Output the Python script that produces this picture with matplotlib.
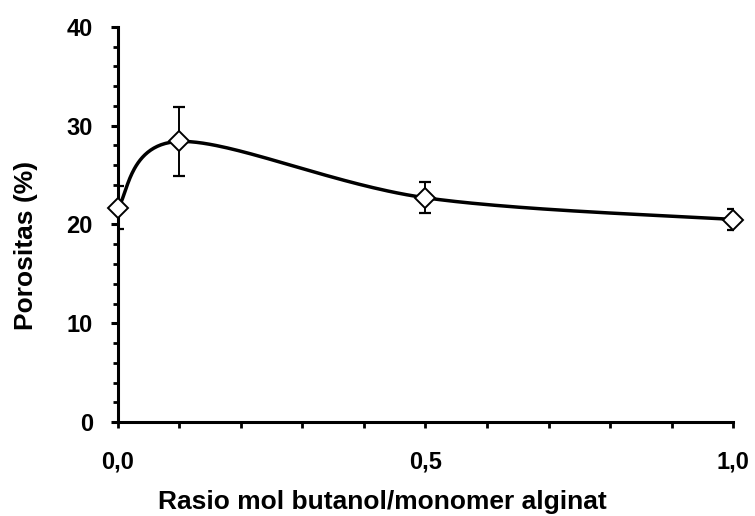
import numpy as np
import matplotlib
matplotlib.use("Agg")
import matplotlib.pyplot as plt
from matplotlib.ticker import MultipleLocator, FixedLocator

# data
ratio = [0.0, 0.1, 0.5, 1.0]
porosity = [21.7, 28.4, 22.7, 20.5]
porosity_err = [2.2, 3.5, 1.55, 1.05]
x_tick_labels = ["0,0", "0,5", "1,0"]


def smooth_curve(x, y, sx, sy, n=60):
    """Excel-like smoothed line: cubic Bezier with Catmull-Rom control points,
    computed in screen-scaled coordinates."""
    px = np.asarray(x, float) * sx
    py = np.asarray(y, float) * sy
    pts = np.column_stack([px, py])
    ext = np.vstack([pts[0], pts, pts[-1]])
    out = []
    t = np.linspace(0, 1, n)[:, None]
    for i in range(len(pts) - 1):
        p0, p1, p2, p3 = ext[i], ext[i + 1], ext[i + 2], ext[i + 3]
        c1 = p1 + (p2 - p0) / 6.0
        c2 = p2 - (p3 - p1) / 6.0
        seg = ((1 - t) ** 3) * p1 + 3 * ((1 - t) ** 2) * t * c1 \
            + 3 * (1 - t) * t ** 2 * c2 + t ** 3 * p2
        out.append(seg)
    out = np.vstack(out)
    return out[:, 0] / sx, out[:, 1] / sy


plt.rcParams['font.family'] = ['Liberation Sans', 'DejaVu Sans']
plt.rcParams['font.weight'] = 'bold'

fig = plt.figure(figsize=(7.55, 5.16), dpi=100)
ax = fig.add_axes([0.156, 0.182, 0.815, 0.766])

# axes are ~615 px wide for 1.0 and ~395 px tall for 40
cx, cy = smooth_curve(ratio, porosity, 615.0, 395.0 / 40.0)
ax.plot(cx, cy, color='black', lw=2.5, zorder=2)
ax.errorbar(ratio, porosity, yerr=porosity_err, fmt='none', ecolor='black',
            elinewidth=1.4, capsize=4.5, capthick=1.6, zorder=3)
ax.plot(ratio, porosity, linestyle='none', marker='D', markersize=10,
        markerfacecolor='white', markeredgecolor='black', markeredgewidth=1.4,
        zorder=4, clip_on=False)

ax.set_xlim(0, 1.0)
ax.set_ylim(0, 40)

for s in ['top', 'right']:
    ax.spines[s].set_visible(False)
for s in ['left', 'bottom']:
    ax.spines[s].set_linewidth(2.2)

ax.yaxis.set_major_locator(MultipleLocator(10))
ax.yaxis.set_minor_locator(MultipleLocator(2))
ax.xaxis.set_major_locator(FixedLocator([0.0, 0.5, 1.0]))
ax.xaxis.set_minor_locator(MultipleLocator(0.1))
ax.set_xticklabels(x_tick_labels)

ax.tick_params(axis='y', which='major', direction='out', length=5, width=2.2,
               labelsize=17, pad=13)
ax.tick_params(axis='y', which='minor', direction='out', length=3.5, width=2.0)
ax.tick_params(axis='x', which='both', direction='out', length=4.5, width=2.0,
               labelsize=17, pad=16)

ax.set_xlabel("Rasio mol butanol/monomer alginat", fontsize=19,
              fontweight='bold')
ax.set_ylabel("Porositas (%)", fontsize=19, fontweight='bold')
ax.xaxis.set_label_coords(0.43, -0.172)
ax.yaxis.set_label_coords(-0.13, 0.446)

fig.savefig("out.png", dpi=100)
